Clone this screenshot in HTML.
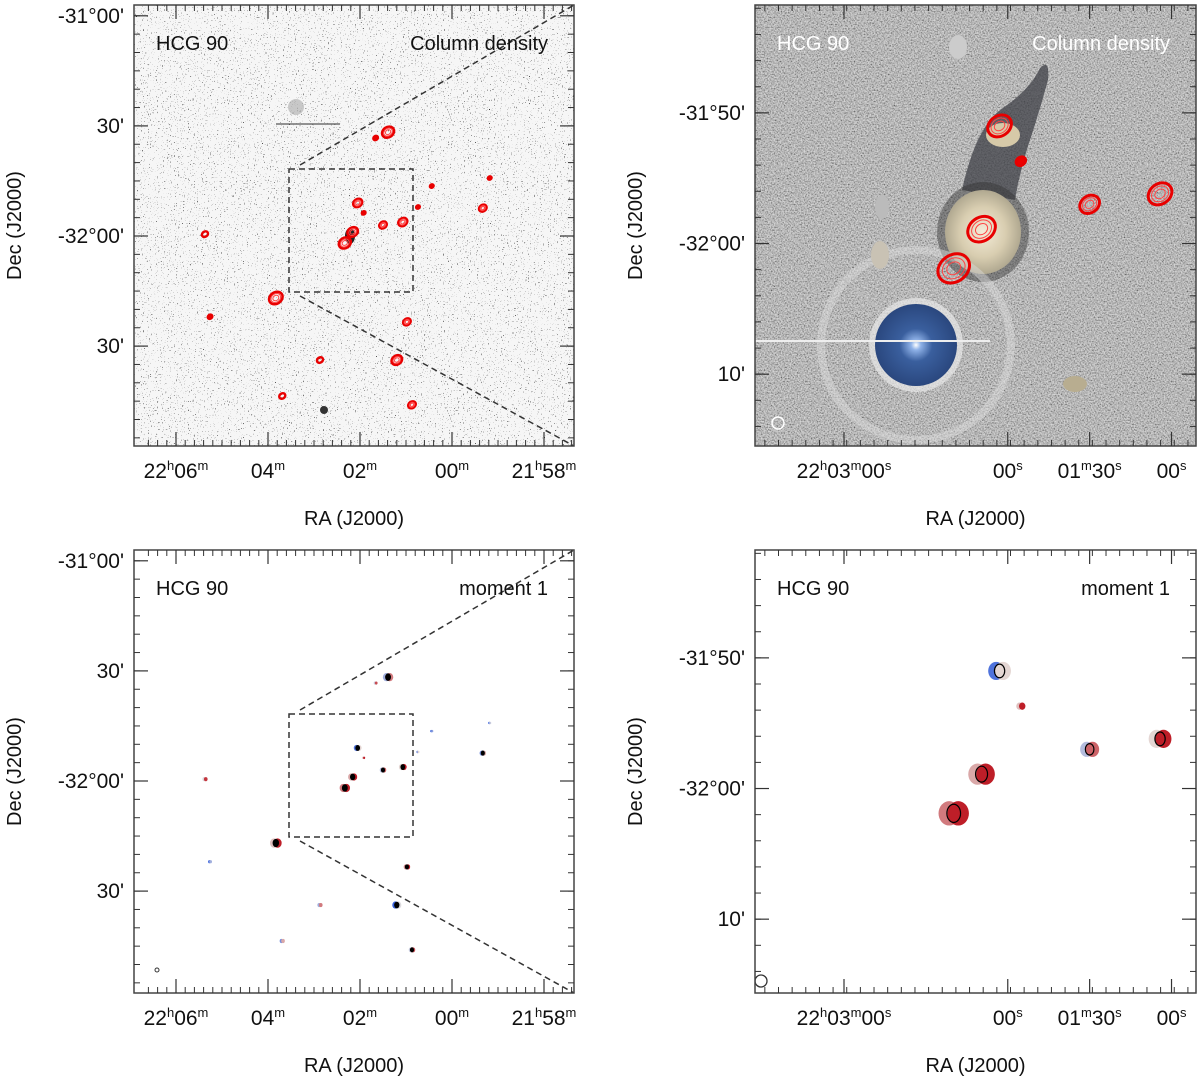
<!DOCTYPE html>
<html><head><meta charset="utf-8">
<style>
html,body{margin:0;padding:0;background:#fff;width:1200px;height:1082px;overflow:hidden;}
svg{display:block;font-family:"Liberation Sans",Arial,sans-serif;}
</style></head>
<body>
<svg id="fig" width="1200" height="1082" viewBox="0 0 1200 1082" xmlns="http://www.w3.org/2000/svg">
<defs>
<filter id="speck" x="0" y="0" width="100%" height="100%">
<feTurbulence type="fractalNoise" baseFrequency="0.85" numOctaves="1" seed="3"/>
<feColorMatrix type="matrix" values="0 0 0 0 0  0 0 0 0 0  0 0 0 0 0  -14 0 0 0 4.6"/>
</filter>
<filter id="grain" x="0" y="0" width="100%" height="100%">
<feTurbulence type="fractalNoise" baseFrequency="0.7" numOctaves="2" seed="7"/>
<feColorMatrix type="matrix" values="1.8 0 0 0 -0.3  1.8 0 0 0 -0.3  1.8 0 0 0 -0.3  0 0 0 0 1"/>
</filter>
<radialGradient id="galgrad" cx="50%" cy="50%" r="50%">
<stop offset="0" stop-color="#f4ecd8"/><stop offset="0.6" stop-color="#d8cdb0"/><stop offset="1" stop-color="#b0a890"/>
</radialGradient>
<radialGradient id="stargrad" cx="50%" cy="50%" r="50%">
<stop offset="0" stop-color="#ffffff"/><stop offset="0.12" stop-color="#8fb2e8"/><stop offset="0.4" stop-color="#3a5f9e"/><stop offset="1" stop-color="#2a477e"/>
</radialGradient>
<clipPath id="clipTL"><rect x="134" y="5" width="440" height="441"/></clipPath>
<clipPath id="clipTR"><rect x="755" y="5" width="441" height="441"/></clipPath>
<clipPath id="clipBL"><rect x="134" y="550" width="440" height="443"/></clipPath>
<clipPath id="clipBR"><rect x="755" y="550" width="441" height="443"/></clipPath>
</defs>
</svg>
<script>
// ---- data (RA minutes east of 22h00m, Dec arcmin relative to -32°00') ----
const srcRA  = [1.39,1.66,2.05,1.92,2.16,2.33,1.50,1.07,0.74,0.44,-0.67,-0.82,5.37,3.83,5.26,0.98,1.20,2.87,3.69,0.87];
const srcDec = [28.3,26.7,9.0,6.3,1.1,-1.9,3.0,3.8,7.9,13.6,7.6,15.8,0.5,-16.9,-22.0,-23.4,-33.8,-33.8,-43.6,-46.0];
const srcFlux = [4,1.5,3,1.2,3.5,4,2.5,3,1.2,1.2,2.5,1.2,2,4.5,1.5,2.5,3.5,2,2,2.5];
const srcVel = [8740,8760,8700,8790,8800,8820,8750,8780,8700,8650,8720,8680,8770,8790,8660,8810,8690,8740,8720,8760];
const raTicksTL = [6,4,2,0,-2];
const raLabTL = [["22","h","06","m"],["","","04","m"],["","","02","m"],["","","00","m"],["21","h","58","m"]];
const decTicksTL = [60,30,0,-30];
const decLabTL = ["-31°00'","30'","-32°00'","30'"];
const raTicksTR = [3,2,1.5,1];
const raLabTR = [["22h03m","00"],["","00"],["01m","30"],["","00"]];
const decTicksTR = [10,0,-10];
const decLabTR = ["-31°50'","-32°00'","10'"];

const NS='http://www.w3.org/2000/svg';
const svg=document.getElementById('fig');
function mk(tag,attrs,parent){const e=document.createElementNS(NS,tag);for(const k in attrs)e.setAttribute(k,attrs[k]);(parent||svg).appendChild(e);return e;}

const xTL=m=>452-46*m;
const yTL=d=>236-3.67*d;
const BOX={x0:289,y0:169};
const Z=3.56;
const xTR=m=>755+(xTL(m)-BOX.x0)*Z;
const yTR=d=>5+(yTL(d)-BOX.y0)*Z;
const yBL=d=>yTL(d)+545;
const yBR=d=>550+(yTL(d)-BOX.y0)*Z;

function velColor(v){const t=Math.max(0,Math.min(1,(v-8650)/170));
 const b=[59,100,220],w=[230,225,222],r=[190,30,40];let c;
 if(t<0.5){const s=t/0.5;c=b.map((x,i)=>Math.round(x+(w[i]-x)*s));}else{const s=(t-0.5)/0.5;c=w.map((x,i)=>Math.round(x+(r[i]-x)*s));}
 return 'rgb('+c.join(',')+')';}

function frameTicks(g,x0,y0,w,h,xs,ys,minorX,minorY){
 mk('rect',{x:x0,y:y0,width:w,height:h,fill:'none',stroke:'#444','stroke-width':1.5},g);
 minorX.forEach(x=>{if(x<x0||x>x0+w)return;mk('line',{x1:x,y1:y0+h,x2:x,y2:y0+h-6,stroke:'#333','stroke-width':1},g);mk('line',{x1:x,y1:y0,x2:x,y2:y0+6,stroke:'#333','stroke-width':1},g);});
 xs.forEach(x=>{mk('line',{x1:x,y1:y0+h,x2:x,y2:y0+h-14,stroke:'#333','stroke-width':1.2},g);mk('line',{x1:x,y1:y0,x2:x,y2:y0+14,stroke:'#333','stroke-width':1.2},g);});
 minorY.forEach(y=>{if(y<y0||y>y0+h)return;mk('line',{x1:x0,y1:y,x2:x0+6,y2:y,stroke:'#333','stroke-width':1},g);mk('line',{x1:x0+w,y1:y,x2:x0+w-6,y2:y,stroke:'#333','stroke-width':1},g);});
 ys.forEach(y=>{mk('line',{x1:x0,y1:y,x2:x0+14,y2:y,stroke:'#333','stroke-width':1.2},g);mk('line',{x1:x0+w,y1:y,x2:x0+w-14,y2:y,stroke:'#333','stroke-width':1.2},g);});
}
function txt(g,x,y,s,opt){const t=mk('text',Object.assign({x:x,y:y,'font-size':20,fill:'#111'},opt||{}),g);t.textContent=s;return t;}
function raLabel(g,x,y,parts){
 const t=mk('text',{x:x,y:y,'font-size':21,fill:'#111','text-anchor':'middle'},g);
 
 
 if(parts[0]){const a=mk('tspan',{},t);a.textContent=parts[0];const b=mk('tspan',{'font-size':13,dy:-8},t);b.textContent=parts[1];const c=mk('tspan',{dy:8},t);c.textContent=parts[2];}
 else{const c=mk('tspan',{},t);c.textContent=parts[2];}
 const d=mk('tspan',{'font-size':13,dy:-8},t);d.textContent=parts[3];
}
function raLabelTR(g,x,y,parts){
 const t=mk('text',{x:x,y:y,'font-size':21,fill:'#111','text-anchor':'middle'},g);
 
 
 if(parts[0]==="22h03m"){
  [["22",0],["h",1],["03",0],["m",1]].forEach(p=>{const s=mk('tspan',p[1]?{'font-size':13,dy:-8}:{dy:8},t);s.textContent=p[0];});
  t.firstChild.setAttribute('dy',0);
  const c=mk('tspan',{dy:8},t);c.textContent=parts[1];
 } else if(parts[0]==="01m"){
  const a=mk('tspan',{},t);a.textContent="01";const b=mk('tspan',{'font-size':13,dy:-8},t);b.textContent="m";const c=mk('tspan',{dy:8},t);c.textContent=parts[1];
 } else {const c=mk('tspan',{},t);c.textContent=parts[1];}
 const d=mk('tspan',{'font-size':13,dy:-8},t);d.textContent="s";
}

function range(a,b,s){const r=[];for(let v=a;v<=b+1e-9;v+=s)r.push(v);return r;}

function panel(opts){
 const g=mk('g',{});
 
 
 const {x0,y0,w,h,xf,yf}=opts;
 const bg=mk('g',{'clip-path':'url(#'+opts.clip+')'},g);
 opts.bg(bg);
 srcRA.forEach((ra,i)=>{
  const cx=xf(ra),cy=yf(srcDec[i]);const f=srcFlux[i]*opts.sc;
  if(opts.kind==='contour'){
   const n=srcFlux[i]>2?3:1;
   for(let k=0;k<n;k++){const e=mk('ellipse',{cx:cx,cy:cy,rx:Math.max(1.5,f*(1-k*0.28)),ry:Math.max(1.5,f*0.8*(1-k*0.28)),fill:k===0&&srcFlux[i]<2?'#e00':'none',stroke:k===0?'#e80000':'#f44','stroke-width':k===0?opts.sw:1,transform:'rotate(-35 '+cx+' '+cy+')'},bg);
    
    }
  } else {
   const e1=mk('ellipse',{cx:cx-f*0.3,cy:cy,rx:f*0.7,ry:f*0.8,fill:velColor(srcVel[i]-40)},bg);
   
   
   const e2=mk('ellipse',{cx:cx+f*0.3,cy:cy,rx:f*0.7,ry:f*0.8,fill:velColor(srcVel[i]+40)},bg);
   
   
   if(srcFlux[i]>2.2){const e3=mk('ellipse',{cx:cx,cy:cy,rx:f*0.45,ry:f*0.6,fill:opts.sc>2?'none':'#000',stroke:'#000','stroke-width':1.2},bg);
    
    }
  }
 });
 if(opts.over)opts.over(bg);
 frameTicks(g,x0,y0,w,h,opts.majX.map(xf),opts.majY.map(yf),opts.minX.map(xf),opts.minY.map(yf));
 opts.labX.forEach((m,i)=>opts.rl(g,xf(m),y0+h+32,opts.labXs[i]));
 opts.labY.forEach((d,i)=>{const t=txt(g,x0-10,yf(d)+7,opts.labYs[i],{'text-anchor':'end','font-size':21});});
 const tx=txt(g,x0+w/2,y0+h+79,'RA (J2000)',{'text-anchor':'middle'});
 
 const ty=txt(g,0,0,'Dec (J2000)',{'text-anchor':'middle',transform:'translate('+(opts.x0-113)+','+(y0+h/2)+') rotate(-90)'});
 
 const c=opts.textCol;
 const t1=txt(g,x0+22,y0+45,'HCG 90',{fill:c});
 const t2=txt(g,x0+w-26,y0+45,opts.title,{fill:c,'text-anchor':'end'});
 return g;
}

function zoomBox(g,yoff,x0,y0,w,h){
 const r=mk('rect',{x:289,y:169+yoff,width:124,height:123,fill:'none',stroke:'#333','stroke-width':1.5,'stroke-dasharray':'6,4'},g);
 
 const l1=mk('line',{x1:300,y1:165+yoff,x2:x0+w,y2:y0,stroke:'#333','stroke-width':1.5,'stroke-dasharray':'6,4'},g);
 
 const l2=mk('line',{x1:300,y1:296+yoff,x2:x0+w,y2:y0+h,stroke:'#333','stroke-width':1.5,'stroke-dasharray':'6,4'},g);
 
}

const common={majX:raTicksTL,labX:raTicksTL,labXs:raLabTL,majY:decTicksTL,labY:decTicksTL,labYs:decLabTL,
 minX:range(-2.6,6.6,0.2),minY:range(-60,70,5),rl:raLabel};

panel(Object.assign({},common,{name:'panel-column-density-wide',x0:134,y0:5,w:440,h:441,xf:xTL,yf:yTL,clip:'clipTL',kind:'contour',sc:1.6,sw:2.5,title:'Column density',textCol:'#111',
 bg:g=>{mk('rect',{x:134,y:5,width:440,height:441,fill:'#f6f6f6'},g);mk('rect',{x:134,y:5,width:440,height:441,filter:'url(#speck)',opacity:0.8},g);
  mk('ellipse',{cx:296,cy:107,rx:8,ry:8,fill:'#aaa',opacity:0.6},g);mk('line',{x1:276,y1:124,x2:340,y2:124,stroke:'#555','stroke-width':1.2},g);
  mk('ellipse',{cx:350,cy:236,rx:5,ry:8,fill:'#222'},g);mk('ellipse',{cx:324,cy:410,rx:4,ry:4,fill:'#333'},g);},
 over:g=>zoomBox(g,0,134,5,440,441)}));

panel(Object.assign({},common,{name:'panel-moment1-wide',x0:134,y0:550,w:440,h:443,xf:xTL,yf:yBL,clip:'clipBL',kind:'blob',sc:1.3,sw:2,title:'moment 1',textCol:'#111',
 bg:g=>{mk('rect',{x:134,y:550,width:440,height:443,fill:'#fff'},g);mk('circle',{cx:157,cy:970,r:2,fill:'none',stroke:'#333'},g);},
 over:g=>zoomBox(g,545,134,550,440,443)}));

const commonR={majX:raTicksTR,labX:raTicksTR,labXs:raLabTR,majY:decTicksTR,labY:decTicksTR,labYs:decLabTR,
 minX:range(0.9,3.7,1/12),minY:range(-16,22,2),rl:raLabelTR};

panel(Object.assign({},commonR,{name:'panel-column-density-zoom',x0:755,y0:5,w:441,h:441,xf:xTR,yf:yTR,clip:'clipTR',kind:'contour',sc:4.2,sw:3,title:'Column density',textCol:'#fff',
 bg:g=>{mk('rect',{x:755,y:5,width:441,height:441,fill:'#999'},g);mk('rect',{x:755,y:5,width:441,height:441,filter:'url(#grain)',opacity:0.6},g);
  mk('path',{d:'M962 190 Q975 130 1000 110 Q1030 90 1040 68 Q1050 58 1048 80 Q1040 110 1030 140 Q1020 170 1015 200 Z',fill:'#3d3f46',opacity:0.75},g);
  mk('ellipse',{cx:983,cy:232,rx:46,ry:50,fill:'#333',opacity:0.45},g);
  mk('ellipse',{cx:983,cy:232,rx:38,ry:42,fill:'url(#galgrad)'},g);
  mk('ellipse',{cx:1003,cy:135,rx:17,ry:12,fill:'#d6c9a8'},g);
  mk('circle',{cx:916,cy:345,r:95,fill:'none',stroke:'#ddd','stroke-width':8,opacity:0.45},g);
  mk('circle',{cx:916,cy:345,r:47,fill:'#e8e8e8',opacity:0.7},g);
  mk('circle',{cx:916,cy:345,r:41,fill:'url(#stargrad)'},g);
  mk('line',{x1:755,y1:341,x2:990,y2:341,stroke:'#eee','stroke-width':2},g);
  mk('line',{x1:760,y1:210,x2:880,y2:310,stroke:'#bbb','stroke-width':1.5},g);
  mk('ellipse',{cx:880,cy:255,rx:9,ry:14,fill:'#c9c2b4'},g);mk('ellipse',{cx:882,cy:207,rx:7,ry:12,fill:'#bbb'},g);
  mk('ellipse',{cx:958,cy:47,rx:9,ry:12,fill:'#ccc'},g);mk('ellipse',{cx:1075,cy:384,rx:12,ry:8,fill:'#b8ad90'},g);
  mk('circle',{cx:778,cy:423,r:6,fill:'none',stroke:'#fff','stroke-width':1.5},g);}}));

panel(Object.assign({},commonR,{name:'panel-moment1-zoom',x0:755,y0:550,w:441,h:443,xf:xTR,yf:yBR,clip:'clipBR',kind:'blob',sc:3.8,sw:2,title:'moment 1',textCol:'#111',
 bg:g=>{mk('rect',{x:755,y:550,width:441,height:443,fill:'#fff'},g);mk('circle',{cx:761,cy:981,r:6,fill:'none',stroke:'#333','stroke-width':1.3},g);}}));
</script>
</body></html>
